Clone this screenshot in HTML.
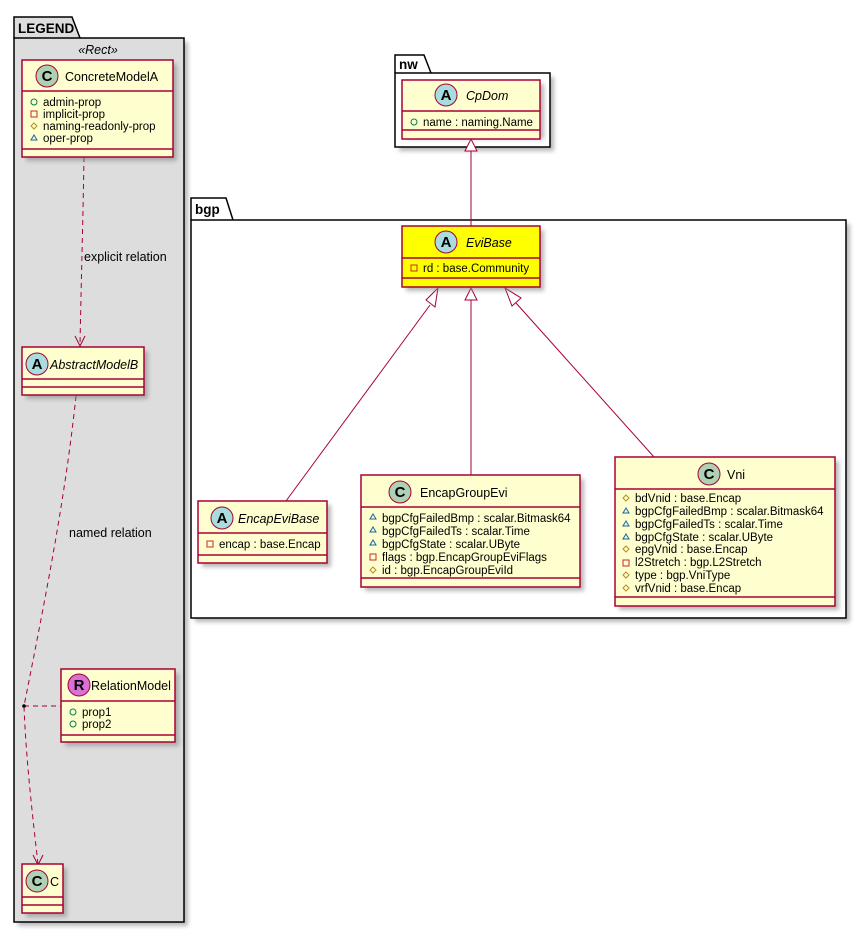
<!DOCTYPE html>
<html><head><meta charset="utf-8"><style>
html,body{margin:0;padding:0;background:#fff;}
svg{display:block;font-family:"Liberation Sans","DejaVu Sans",sans-serif;}
.b{fill:#FEFECE;stroke:#A80036;stroke-width:1.5;}
.l{stroke:#A80036;stroke-width:1.5;fill:none;}
.t{font-size:12.5px;fill:#000;}
.a{font-size:11.5px;fill:#000;}
.pk{stroke:#000;stroke-width:1.5;}
.e{stroke:#A80036;stroke-width:1;fill:none;}
.d{stroke:#A80036;stroke-width:1;fill:none;stroke-dasharray:5,4;}
.ic{font-size:15px;font-weight:bold;text-anchor:middle;}
</style></head><body>
<svg width="864" height="933" viewBox="0 0 864 933" xmlns="http://www.w3.org/2000/svg">
<defs>
<filter id="f" x="-10%" y="-10%" width="130%" height="130%"><feGaussianBlur stdDeviation="2"/></filter>
</defs>
<!-- LEGEND package -->
<rect x="18" y="42" width="170" height="884" fill="#888" filter="url(#f)" opacity=".6"/>
<path d="M14 38 L14 17 L72 17 L80 38" fill="#DDDDDD" class="pk"/>
<rect x="14" y="38" width="170" height="884" fill="#DDDDDD" class="pk"/>
<text x="18" y="33" style="font-size:13.5px;font-weight:bold">LEGEND</text>
<text x="98" y="54" text-anchor="middle" style="font-size:12.5px;font-style:italic">«Rect»</text>

<!-- nw package -->
<rect x="399" y="77" width="155" height="74" fill="#888" filter="url(#f)" opacity=".6"/>
<path d="M395 73 L395 55 L424 55 L431 73" fill="#fff" class="pk"/>
<rect x="395" y="73" width="155" height="74" fill="#fff" class="pk"/>
<text x="399" y="69" style="font-size:13.5px;font-weight:bold">nw</text>

<!-- bgp package -->
<rect x="195" y="224" width="655" height="398" fill="#888" filter="url(#f)" opacity=".6"/>
<path d="M191 220 L191 198 L226 198 L233 220" fill="#fff" class="pk"/>
<rect x="191" y="220" width="655" height="398" fill="#fff" class="pk"/>
<text x="195" y="214" style="font-size:13.5px;font-weight:bold">bgp</text>

<!-- edges -->
<path class="d" d="M84 157 C83 220 81 290 80 345"/>
<path class="e" d="M75 336 L80 346 L85 336" stroke-width="1.5"/>
<text x="84" y="261" style="font-size:12.5px">explicit relation</text>
<path class="d" d="M76 396 C65 500 45 600 24 706 C26 760 33 820 38 864"/>
<path class="e" d="M33 855 L38 865 L43 855" stroke-width="1.5"/>
<path class="d" d="M24 706 L61 706"/>
<circle cx="24" cy="706" r="1.8" fill="#000"/>
<text x="69" y="537" style="font-size:12.5px">named relation</text>

<line class="e" x1="471" y1="151" x2="471" y2="226"/>
<polygon points="471,139 465,151 477,151" fill="#fff" stroke="#A80036"/>
<line class="e" x1="430" y1="305" x2="286" y2="501"/>
<polygon points="438,288 426,300 435,307" fill="#fff" stroke="#A80036"/>
<line class="e" x1="471" y1="300" x2="471" y2="475"/>
<polygon points="471,288 465,300 477,300" fill="#fff" stroke="#A80036"/>
<line class="e" x1="516" y1="303" x2="654" y2="457"/>
<polygon points="505,288 512,306 521,298" fill="#fff" stroke="#A80036"/>

<!-- ConcreteModelA -->
<rect x="26" y="64" width="151" height="97" fill="#888" filter="url(#f)" opacity=".6"/>
<rect class="b" x="22" y="60" width="151" height="97"/>
<line class="l" x1="22" y1="91" x2="173" y2="91"/><line class="l" x1="22" y1="149" x2="173" y2="149"/>
<circle cx="47" cy="76" r="11" fill="#ADD1B2" stroke="#A80036"/><text x="47" y="81" class="ic">C</text>
<text x="65" y="81" class="t">ConcreteModelA</text>
<circle cx="34" cy="102" r="3" fill="none" stroke="#038048"/><text x="43" y="106" class="a">admin-prop</text>
<rect x="31" y="111" width="6" height="6" fill="none" stroke="#C82930"/><text x="43" y="118" class="a">implicit-prop</text>
<polygon points="34,123 37,126 34,129 31,126" fill="none" stroke="#B38D22"/><text x="43" y="130" class="a">naming-readonly-prop</text>
<polygon points="34,135 37,140 31,140" fill="none" stroke="#1963A0"/><text x="43" y="142" class="a">oper-prop</text>

<!-- AbstractModelB -->
<rect x="26" y="351" width="122" height="48" fill="#888" filter="url(#f)" opacity=".6"/>
<rect class="b" x="22" y="347" width="122" height="48"/>
<line class="l" x1="22" y1="379" x2="144" y2="379"/><line class="l" x1="22" y1="387" x2="144" y2="387"/>
<circle cx="37" cy="364" r="11" fill="#A9DCDF" stroke="#A80036"/><text x="37" y="369" class="ic">A</text>
<text x="50" y="369" class="t" font-style="italic">AbstractModelB</text>

<!-- RelationModel -->
<rect x="65" y="673" width="114" height="73" fill="#888" filter="url(#f)" opacity=".6"/>
<rect class="b" x="61" y="669" width="114" height="73"/>
<line class="l" x1="61" y1="701" x2="175" y2="701"/><line class="l" x1="61" y1="735" x2="175" y2="735"/>
<circle cx="79" cy="685" r="11" fill="#DA70D6" stroke="#A80036"/><text x="79" y="690" class="ic">R</text>
<text x="91" y="690" class="t">RelationModel</text>
<circle cx="73" cy="712" r="3" fill="none" stroke="#038048"/><text x="82" y="716" class="a">prop1</text>
<circle cx="73" cy="724" r="3" fill="none" stroke="#038048"/><text x="82" y="728" class="a">prop2</text>

<!-- C -->
<rect x="26" y="868" width="41" height="49" fill="#888" filter="url(#f)" opacity=".6"/>
<rect class="b" x="22" y="864" width="41" height="49"/>
<line class="l" x1="22" y1="897" x2="63" y2="897"/><line class="l" x1="22" y1="905" x2="63" y2="905"/>
<circle cx="37" cy="881" r="11" fill="#ADD1B2" stroke="#A80036"/><text x="37" y="886" class="ic">C</text>
<text x="50" y="886" class="t">C</text>

<!-- CpDom -->
<rect x="406" y="84" width="138" height="55" fill="#888" filter="url(#f)" opacity=".6"/>
<rect class="b" x="402" y="80" width="138" height="59"/>
<line class="l" x1="402" y1="111" x2="540" y2="111"/><line class="l" x1="402" y1="130" x2="540" y2="130"/>
<circle cx="446" cy="95" r="11" fill="#A9DCDF" stroke="#A80036"/><text x="446" y="100" class="ic">A</text>
<text x="466" y="100" class="t" font-style="italic">CpDom</text>
<circle cx="414" cy="122" r="3" fill="none" stroke="#038048"/><text x="423" y="126" class="a">name : naming.Name</text>

<!-- EviBase -->
<rect x="406" y="230" width="138" height="61" fill="#888" filter="url(#f)" opacity=".6"/>
<rect class="b" x="402" y="226" width="138" height="61" style="fill:#FFFF00"/>
<line class="l" x1="402" y1="258" x2="540" y2="258"/><line class="l" x1="402" y1="278" x2="540" y2="278"/>
<circle cx="446" cy="242" r="11" fill="#A9DCDF" stroke="#A80036"/><text x="446" y="247" class="ic">A</text>
<text x="466" y="247" class="t" font-style="italic">EviBase</text>
<rect x="411" y="265" width="6" height="6" fill="none" stroke="#C82930"/><text x="423" y="272" class="a">rd : base.Community</text>

<!-- EncapEviBase -->
<rect x="202" y="505" width="129" height="62" fill="#888" filter="url(#f)" opacity=".6"/>
<rect class="b" x="198" y="501" width="129" height="62"/>
<line class="l" x1="198" y1="533" x2="327" y2="533"/><line class="l" x1="198" y1="555" x2="327" y2="555"/>
<circle cx="222" cy="518" r="11" fill="#A9DCDF" stroke="#A80036"/><text x="222" y="523" class="ic">A</text>
<text x="238" y="523" class="t" font-style="italic">EncapEviBase</text>
<rect x="207" y="541" width="6" height="6" fill="none" stroke="#C82930"/><text x="219" y="548" class="a">encap : base.Encap</text>

<!-- EncapGroupEvi -->
<rect x="365" y="479" width="219" height="112" fill="#888" filter="url(#f)" opacity=".6"/>
<rect class="b" x="361" y="475" width="219" height="112"/>
<line class="l" x1="361" y1="507" x2="580" y2="507"/><line class="l" x1="361" y1="578" x2="580" y2="578"/>
<circle cx="400" cy="492" r="11" fill="#ADD1B2" stroke="#A80036"/><text x="400" y="497" class="ic">C</text>
<text x="420" y="497" class="t">EncapGroupEvi</text>
<polygon points="373,514 376,519 370,519" fill="none" stroke="#1963A0"/><text x="382" y="522" class="a">bgpCfgFailedBmp : scalar.Bitmask64</text>
<polygon points="373,527 376,532 370,532" fill="none" stroke="#1963A0"/><text x="382" y="535" class="a">bgpCfgFailedTs : scalar.Time</text>
<polygon points="373,540 376,545 370,545" fill="none" stroke="#1963A0"/><text x="382" y="548" class="a">bgpCfgState : scalar.UByte</text>
<rect x="370" y="554" width="6" height="6" fill="none" stroke="#C82930"/><text x="382" y="561" class="a">flags : bgp.EncapGroupEviFlags</text>
<polygon points="373,567 376,570 373,573 370,570" fill="none" stroke="#B38D22"/><text x="382" y="574" class="a">id : bgp.EncapGroupEviId</text>

<!-- Vni -->
<rect x="619" y="461" width="220" height="149" fill="#888" filter="url(#f)" opacity=".6"/>
<rect class="b" x="615" y="457" width="220" height="149"/>
<line class="l" x1="615" y1="489" x2="835" y2="489"/><line class="l" x1="615" y1="597" x2="835" y2="597"/>
<circle cx="709" cy="474" r="11" fill="#ADD1B2" stroke="#A80036"/><text x="709" y="479" class="ic">C</text>
<text x="727" y="479" class="t">Vni</text>
<polygon points="626,495 629,498 626,501 623,498" fill="none" stroke="#B38D22"/><text x="635" y="502" class="a">bdVnid : base.Encap</text>
<polygon points="626,508 629,513 623,513" fill="none" stroke="#1963A0"/><text x="635" y="515" class="a">bgpCfgFailedBmp : scalar.Bitmask64</text>
<polygon points="626,521 629,526 623,526" fill="none" stroke="#1963A0"/><text x="635" y="528" class="a">bgpCfgFailedTs : scalar.Time</text>
<polygon points="626,534 629,539 623,539" fill="none" stroke="#1963A0"/><text x="635" y="541" class="a">bgpCfgState : scalar.UByte</text>
<polygon points="626,546 629,549 626,552 623,549" fill="none" stroke="#B38D22"/><text x="635" y="553" class="a">epgVnid : base.Encap</text>
<rect x="623" y="560" width="6" height="6" fill="none" stroke="#C82930"/><text x="635" y="566" class="a">l2Stretch : bgp.L2Stretch</text>
<polygon points="626,572 629,575 626,578 623,575" fill="none" stroke="#B38D22"/><text x="635" y="579" class="a">type : bgp.VniType</text>
<polygon points="626,585 629,588 626,591 623,588" fill="none" stroke="#B38D22"/><text x="635" y="592" class="a">vrfVnid : base.Encap</text>
</svg>
</body></html>
